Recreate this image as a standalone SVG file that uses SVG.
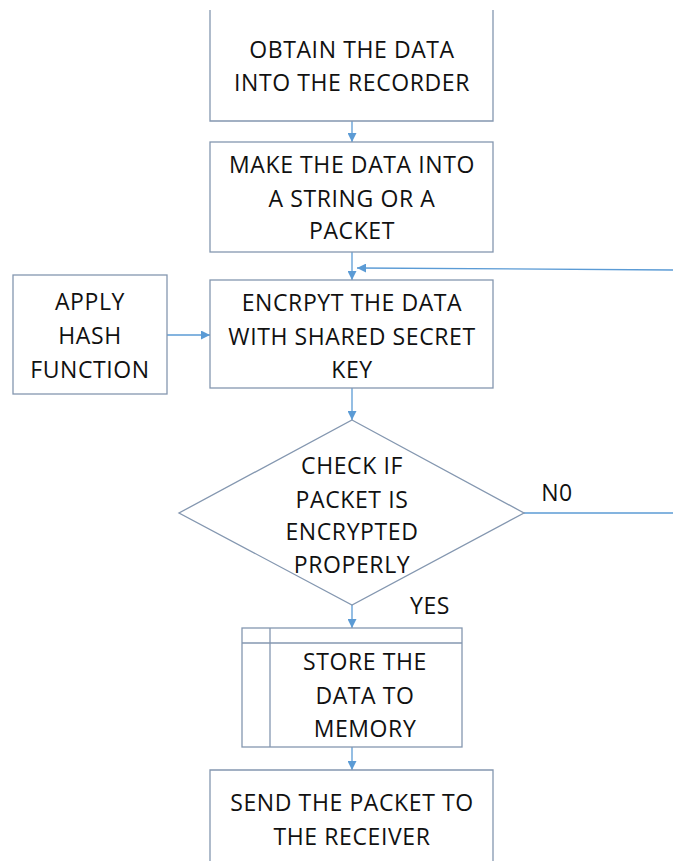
<svg xmlns="http://www.w3.org/2000/svg" width="673" height="861" viewBox="0 0 673 861">
  <defs>
    <marker id="arrow" viewBox="0 0 10 10" refX="10" refY="5" markerWidth="9" markerHeight="9" markerUnits="userSpaceOnUse" orient="auto">
      <path d="M0,0 L10,5 L0,10 z" fill="#5b9bd5"/>
    </marker>
    <style>
      .box { fill: #ffffff; stroke: #8497b0; stroke-width: 1.3; }
      .link { fill: none; stroke: #5b9bd5; stroke-width: 1.3; marker-end: url(#arrow); }
      .plain { fill: none; stroke: #5b9bd5; stroke-width: 1.3; }
      .label { font-family: "Open Sans", "Liberation Sans", sans-serif; font-size: 23px; letter-spacing: 0.6px; fill: #111111; text-anchor: middle; }
    </style>
  </defs>
  <rect width="673" height="861" fill="#ffffff"/>

  <g id="connectors">
    <line class="link" x1="352" y1="121" x2="352" y2="142"/>
    <line class="link" x1="352" y1="252" x2="352" y2="280"/>
    <line class="link" x1="673" y1="270" x2="357" y2="268"/>
    <line class="link" x1="167" y1="335" x2="210" y2="335"/>
    <line class="link" x1="352" y1="388" x2="352" y2="420"/>
    <line class="plain" x1="524" y1="513" x2="673" y2="513"/>
    <line class="link" x1="352" y1="605" x2="352" y2="628"/>
    <line class="link" x1="352" y1="747" x2="352" y2="770"/>
    <text class="label" x="557" y="501">N0</text>
    <text class="label" x="430" y="614">YES</text>
  </g>

  <g id="obtain">
    <path class="box" d="M210,10 V121 H493 V10"/>
    <text class="label" x="352" y="58">OBTAIN THE DATA</text>
    <text class="label" x="352" y="91">INTO THE RECORDER</text>
  </g>

  <g id="make-packet">
    <rect class="box" x="210" y="142" width="283" height="110"/>
    <text class="label" x="352" y="173">MAKE THE DATA INTO</text>
    <text class="label" x="352" y="207">A STRING OR A</text>
    <text class="label" x="352" y="239">PACKET</text>
  </g>

  <g id="hash">
    <rect class="box" x="13" y="275" width="154" height="119"/>
    <text class="label" x="90" y="310">APPLY</text>
    <text class="label" x="90" y="344">HASH</text>
    <text class="label" x="90" y="378">FUNCTION</text>
  </g>

  <g id="encrypt">
    <rect class="box" x="210" y="280" width="283" height="108"/>
    <text class="label" x="352" y="311">ENCRPYT THE DATA</text>
    <text class="label" x="352" y="345">WITH SHARED SECRET</text>
    <text class="label" x="352" y="378">KEY</text>
  </g>

  <g id="check">
    <polygon class="box" points="352,420 524,513 352,605 179,513"/>
    <text class="label" x="352" y="474">CHECK IF</text>
    <text class="label" x="352" y="508">PACKET IS</text>
    <text class="label" x="352" y="540">ENCRYPTED</text>
    <text class="label" x="352" y="573">PROPERLY</text>
  </g>

  <g id="store">
    <rect class="box" x="242" y="628" width="220" height="119"/>
    <line class="box" x1="242" y1="643" x2="462" y2="643"/>
    <line class="box" x1="270" y1="628" x2="270" y2="747"/>
    <text class="label" x="365" y="670">STORE THE</text>
    <text class="label" x="365" y="704">DATA TO</text>
    <text class="label" x="365" y="737">MEMORY</text>
  </g>

  <g id="send">
    <path class="box" d="M210,861 V770 H493 V861"/>
    <text class="label" x="352" y="811">SEND THE PACKET TO</text>
    <text class="label" x="352" y="845">THE RECEIVER</text>
  </g>
</svg>
